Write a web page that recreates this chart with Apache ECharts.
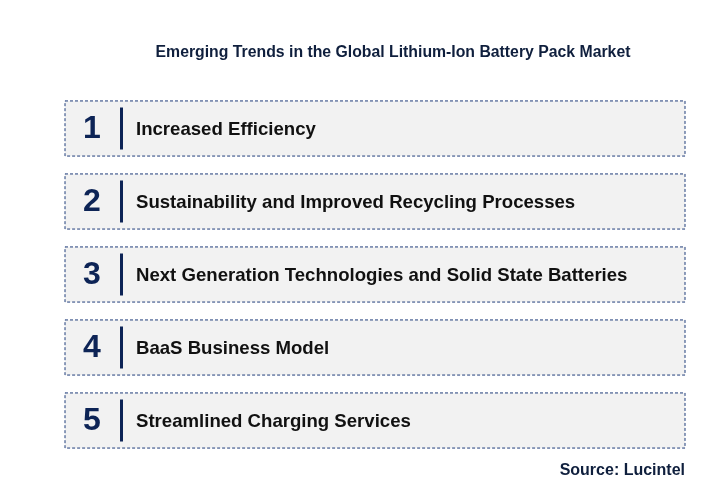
<!DOCTYPE html>
<html><head><meta charset="utf-8">
<script src="https://cdn.jsdelivr.net/npm/echarts@6/dist/echarts.min.js"></script>
<style>html,body{margin:0;padding:0;background:#fff}#c{width:712px;height:501px}</style>
</head><body><div id="c"></div>
<script>
const numbers = ['1','2','3','4','5'];
const trends = [
  'Increased Efficiency',
  'Sustainability and Improved Recycling Processes',
  'Next Generation Technologies and Solid State Batteries',
  'BaaS Business Model',
  'Streamlined Charging Services'
];
const titleText = 'Emerging Trends in the Global Lithium-Ion Battery Pack Market';
const sourceText = 'Source: Lucintel';

const chart = echarts.init(document.getElementById('c'));
chart.setOption({
  backgroundColor: '#fff',
  title: [{text: titleText, left: 388, top: 40, textAlign: 'center',
    textStyle: {fontFamily: 'Liberation Sans, Arial', fontSize: 15.8, fontWeight: 'bold', color: '#0f1f3d'}},
   {text: sourceText, right: 22, top: 458,
    textStyle: {fontFamily: 'Liberation Sans, Arial', fontSize: 16, fontWeight: 'bold', color: '#0f1f3d'}}],
  grid: {left: 65, right: 27, top: 92, bottom: 44},
  xAxis: {type: 'value', min: 0, max: 100, show: false},
  yAxis: {type: 'category', data: numbers, inverse: true, show: false},
  series: [{
    type: 'custom',
    data: numbers.map((n, i) => [i, n, trends[i]]),
    encode: {y: 0},
    renderItem: function (params, api) {
      const i = api.value(0);
      const p0 = api.coord([0, i]);
      const p1 = api.coord([100, i]);
      const bh = api.size([0, 1])[1];
      const h = bh * 0.755;
      const cy = p0[1];
      return {type: 'group', children: [
        {type: 'rect', shape: {x: p0[0], y: cy - h / 2, width: p1[0] - p0[0], height: h},
          style: {fill: '#f2f2f2', stroke: '#1f3c7a', lineWidth: 1, lineDash: [3, 2]}},
        {type: 'text', style: {x: p0[0] + 27, y: cy + 1, text: numbers[i], textAlign: 'center', textVerticalAlign: 'middle',
          font: 'bold 32px "Liberation Sans", Arial', fill: '#0d2456'}},
        {type: 'rect', shape: {x: p0[0] + 55, y: cy - 21, width: 3, height: 42}, style: {fill: '#0d2456'}},
        {type: 'text', style: {x: p0[0] + 71, y: cy + 1, text: trends[i], textAlign: 'left', textVerticalAlign: 'middle',
          font: 'bold 18.6px "Liberation Sans", Arial', fill: '#111'}}
      ]};
    }
  }]
});
</script></body></html>
